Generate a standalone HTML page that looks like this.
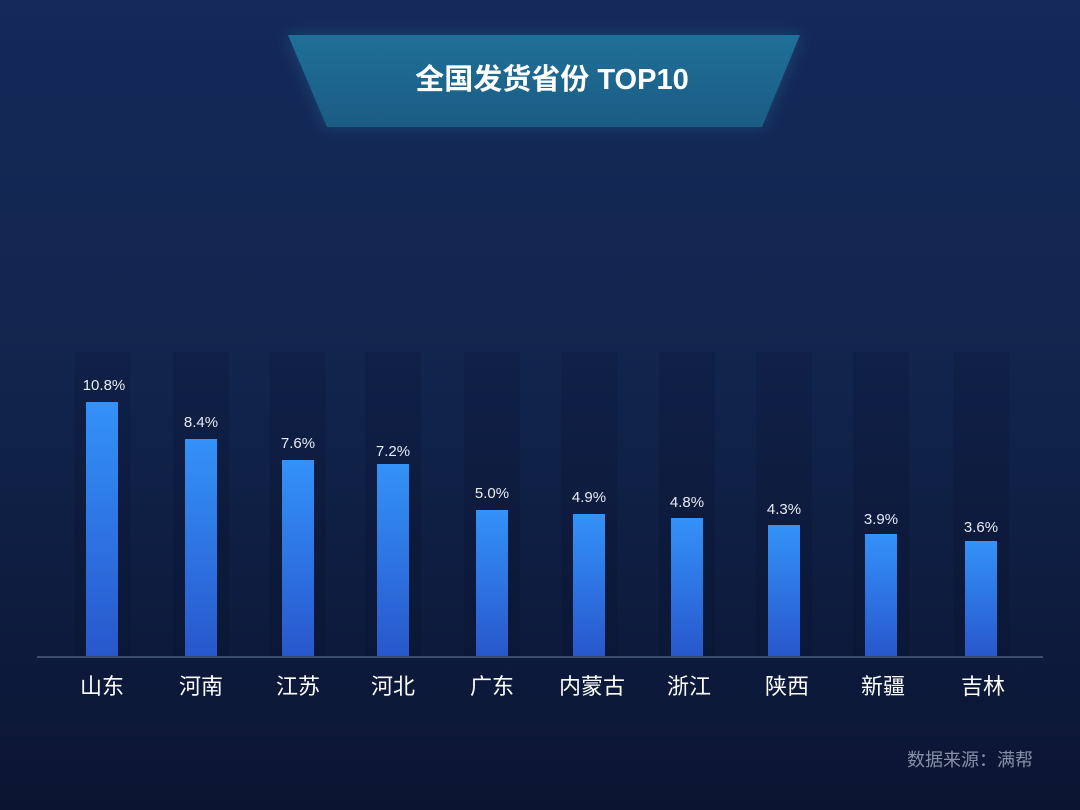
<!DOCTYPE html>
<html><head><meta charset="utf-8"><style>
html,body{margin:0;padding:0}
body{width:1080px;height:810px;overflow:hidden;background:linear-gradient(180deg,#15295a 0%,#12264f 40%,#0d1a3c 80%,#0a1531 100%)}
</style></head><body>
<svg width="1080" height="810" viewBox="0 0 1080 810" xmlns="http://www.w3.org/2000/svg" style="position:absolute;left:0;top:0">
<defs>
<linearGradient id="bar" x1="0" y1="0" x2="0" y2="1"><stop offset="0" stop-color="#3392f8"/><stop offset="1" stop-color="#2857cc"/></linearGradient>
<linearGradient id="ttl" x1="0" y1="0" x2="0" y2="1"><stop offset="0" stop-color="#1f7098"/><stop offset="1" stop-color="#1b5c84"/></linearGradient>
<linearGradient id="col" x1="0" y1="0" x2="0" y2="1"><stop offset="0" stop-color="#0f1d42" stop-opacity="0.6"/><stop offset="1" stop-color="#0b1736" stop-opacity="0.9"/></linearGradient>
<filter id="glow" x="-20%" y="-50%" width="140%" height="200%"><feGaussianBlur stdDeviation="8"/></filter>
</defs>
<polygon points="288,35 800,35 762,127 327,127" fill="#2a86b0" opacity="0.35" filter="url(#glow)"/>
<polygon points="288,35 800,35 762,127 327,127" fill="url(#ttl)"/>
<text x="552" y="89" text-anchor="middle" font-family="Liberation Sans, Noto Sans CJK SC, sans-serif" font-weight="bold" font-size="29" fill="#ffffff">全国发货省份 TOP10</text>
<g font-family="Liberation Sans, Noto Sans CJK SC, sans-serif">
<g fill="url(#col)">
<rect x="74" y="352" width="56" height="304"/><rect x="173" y="352" width="56" height="304"/><rect x="270" y="352" width="56" height="304"/><rect x="365" y="352" width="56" height="304"/><rect x="464" y="352" width="56" height="304"/><rect x="561" y="352" width="56" height="304"/><rect x="659" y="352" width="56" height="304"/><rect x="756" y="352" width="56" height="304"/><rect x="853" y="352" width="56" height="304"/><rect x="953" y="352" width="56" height="304"/>
</g>
<g fill="url(#bar)">
<rect x="86" y="402" width="32" height="254"/><rect x="185" y="439" width="32" height="217"/><rect x="282" y="460" width="32" height="196"/><rect x="377" y="464" width="32" height="192"/><rect x="476" y="510" width="32" height="146"/><rect x="573" y="514" width="32" height="142"/><rect x="671" y="518" width="32" height="138"/><rect x="768" y="525" width="32" height="131"/><rect x="865" y="534" width="32" height="122"/><rect x="965" y="541" width="32" height="115"/>
</g>
<rect x="37" y="656" width="1006" height="2" fill="#3c4d70"/>
<g fill="#e6ecf5" font-size="15" text-anchor="middle">
<text x="104" y="390">10.8%</text><text x="201" y="427">8.4%</text><text x="298" y="448">7.6%</text><text x="393" y="456">7.2%</text><text x="492" y="498">5.0%</text><text x="589" y="502">4.9%</text><text x="687" y="507">4.8%</text><text x="784" y="514">4.3%</text><text x="881" y="524">3.9%</text><text x="981" y="532">3.6%</text>
</g>
<g fill="#ffffff" font-size="22" text-anchor="middle">
<text x="102" y="694">山东</text><text x="201" y="694">河南</text><text x="298" y="694">江苏</text><text x="393" y="694">河北</text><text x="492" y="694">广东</text><text x="592" y="694">内蒙古</text><text x="689" y="694">浙江</text><text x="787" y="694">陕西</text><text x="883" y="694">新疆</text><text x="983" y="694">吉林</text>
</g>
<text x="1033" y="766" text-anchor="end" fill="#8590a6" font-size="18">数据来源：满帮</text>
</g>
</svg>
</body></html>
